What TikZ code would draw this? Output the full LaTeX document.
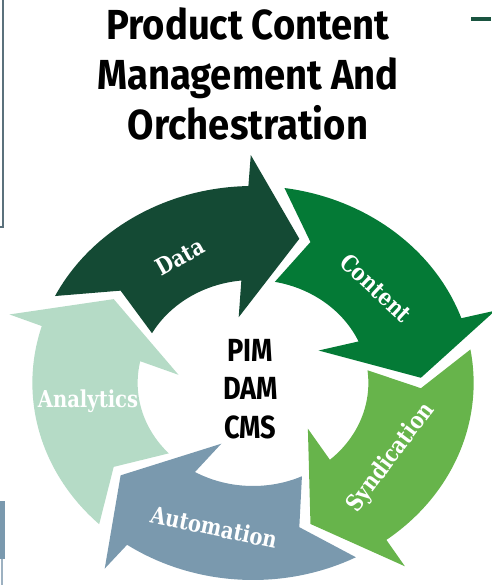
\documentclass[tikz,border=0pt]{standalone}
\usepackage{fontspec}
\setmainfont{Fira Sans}
\newfontfamily\titlefont[FakeStretch=0.91]{Fira Sans}
\newfontfamily\corefont[FakeStretch=0.85]{Fira Sans}
\newfontfamily\labelfont[FakeStretch=0.84]{DejaVu Serif}

\definecolor{datacol}{HTML}{144A34}
\definecolor{contentcol}{HTML}{047A36}
\definecolor{syndcol}{HTML}{67B44B}
\definecolor{autocol}{HTML}{7A99AE}
\definecolor{analyticscol}{HTML}{B5DBC6}
\definecolor{edgecol}{HTML}{5B717C}
\definecolor{paleline}{HTML}{9DB1C1}
\definecolor{barcol}{HTML}{1A5440}

\tikzset{
  titletext/.style={font=\titlefont\bfseries\fontsize{42}{50}\selectfont, align=center},
  coretext/.style={font=\corefont\bfseries\fontsize{32}{38.5}\selectfont, align=center},
  lbl/.style={text=white, font=\labelfont\bfseries\fontsize{23.3}{25}\selectfont},
}

% #1 tip of the arrow before, #2 tip of this arrow, #3 colour
\newcommand{\cyclearrow}[3]{%
  \fill[#3] (#1-4+11.8:197) arc[start angle=#1-4+11.8, end angle=#2+17.2, radius=197pt]
    -- (#2+16.5:228) -- (#2:150) -- (#2+27:67) -- (#2+21.8:103)
    arc[start angle=#2+21.8, end angle=#1-4+9.1, radius=103pt]
    -- (#1-4:150) -- cycle;}

\begin{document}
\begin{tikzpicture}[x=1pt,y=1pt]
\useasboundingbox (0,0) rectangle (491,585);

% bits of the slide frame
\draw[edgecol, line width=2pt] (0,357.5) -- (2.5,357.5) -- (2.5,585);
\fill[autocol] (0,26) rectangle (5,84);
\draw[paleline, line width=2pt] (2,0) -- (2,26);
\fill[barcol] (471,563.5) rectangle (491,567.5);

\node[titletext] (title) at (248,511) {Product Content\\Management And\\Orchestration};

% the five arrows, clockwise
\begin{scope}[shift={(253,202)}, xscale=1.12]
  \cyclearrow{146}{74}{datacol}
  \cyclearrow{74}{2}{contentcol}
  \cyclearrow{2}{-70}{syndcol}
  \cyclearrow{-70}{-142}{autocol}
  \cyclearrow{-142}{-214}{analyticscol}
\end{scope}

\node[lbl, rotate=29] (data) at (180,328) {Data};
\node[lbl, rotate=-43] (content) at (376,297) {Content};
\node[lbl, rotate=53] (synd) at (391,127) {Syndication};
\node[lbl, rotate=-12] (auto) at (214,58) {Automation};
\node[lbl] (analytics) at (88,184) {Analytics};

\node[coretext] (core) at (250.5,196) {PIM\\DAM\\CMS};
\end{tikzpicture}
\end{document}
